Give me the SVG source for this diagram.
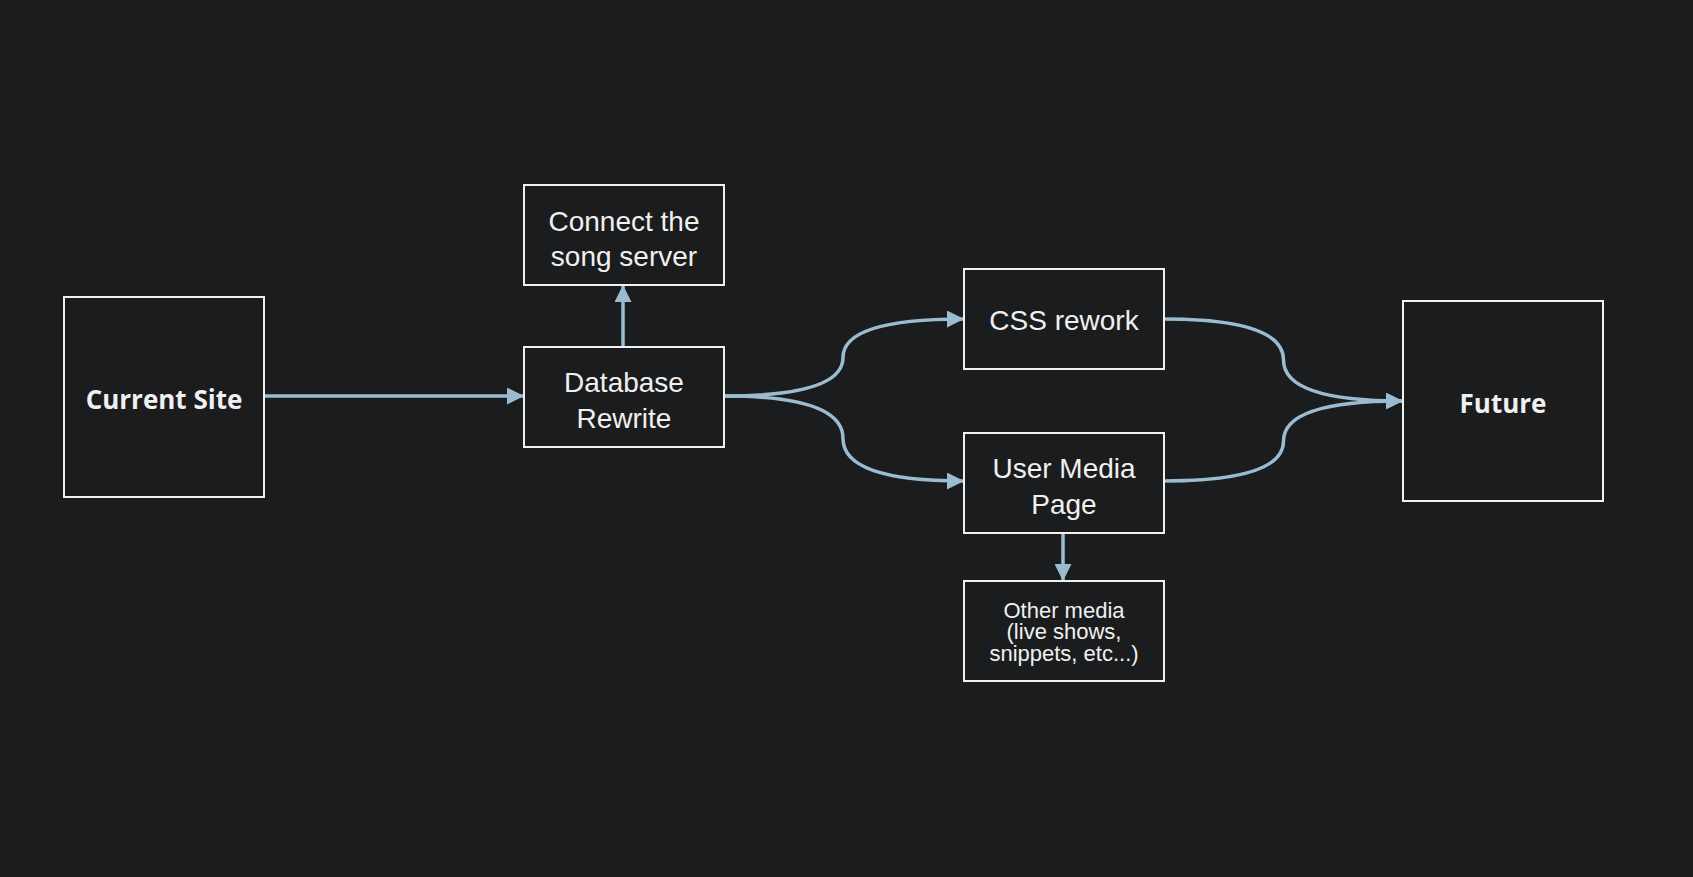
<svg xmlns="http://www.w3.org/2000/svg" width="1693" height="877" viewBox="0 0 1693 877">
<defs>
<style>
.box{fill:#1b1c1e;stroke:#f0f0f0;stroke-width:2}
.t{font-family:"Liberation Sans",Arial,sans-serif;font-size:28px;fill:#f0f0f0;text-anchor:middle}
.s{font-size:22px}
.b{font-family:"Open Sans","Noto Sans",sans-serif;font-weight:bold;font-size:26px;fill:#f0f0f0;text-anchor:middle}
.c{fill:none;stroke:#9bbcd0;stroke-width:3.5}
</style>
<marker id="ah" markerWidth="17" markerHeight="17" refX="16" refY="8.5" orient="auto" markerUnits="userSpaceOnUse" viewBox="0 0 17 17">
<path d="M0,0 L17,8.5 L0,17 Z" fill="#9bbcd0"/>
</marker>
</defs>
<rect width="1693" height="877" fill="#1b1c1e"/>
<g id="connectors">
<path class="c" d="M264,396 L523,396" marker-end="url(#ah)"/>
<path class="c" d="M623,347 L623,286" marker-end="url(#ah)"/>
<path class="c" d="M724,396 Q843,396 843,357.5 Q843,319 963,319" marker-end="url(#ah)"/>
<path class="c" d="M724,396 Q843,396 843,438.5 Q843,481 963,481" marker-end="url(#ah)"/>
<path class="c" d="M1164,319 Q1283.5,319 1283.5,360 Q1283.5,401 1402,401" marker-end="url(#ah)"/>
<path class="c" d="M1164,481 Q1283.5,481 1283.5,441 Q1283.5,401 1402,401"/>
<path class="c" d="M1063,533 L1063,580" marker-end="url(#ah)"/>
</g>
<g id="current-site">
<rect class="box" x="64" y="297" width="200" height="200"/>
<text class="b" x="164" y="409">Current Site</text>
</g>
<g id="database-rewrite">
<rect class="box" x="524" y="347" width="200" height="100"/>
<text class="t" x="624" y="392">Database</text>
<text class="t" x="624" y="427.5">Rewrite</text>
</g>
<g id="connect-song-server">
<rect class="box" x="524" y="185" width="200" height="100"/>
<text class="t" x="624" y="230.5">Connect the</text>
<text class="t" x="624" y="266">song server</text>
</g>
<g id="css-rework">
<rect class="box" x="964" y="269" width="200" height="100"/>
<text class="t" x="1064" y="330">CSS rework</text>
</g>
<g id="user-media-page">
<rect class="box" x="964" y="433" width="200" height="100"/>
<text class="t" x="1064" y="478">User Media</text>
<text class="t" x="1064" y="513.5">Page</text>
</g>
<g id="other-media">
<rect class="box" x="964" y="581" width="200" height="100"/>
<text class="t s" x="1064" y="617.5">Other media</text>
<text class="t s" x="1064" y="639">(live shows,</text>
<text class="t s" x="1064" y="661">snippets, etc...)</text>
</g>
<g id="future">
<rect class="box" x="1403" y="301" width="200" height="200"/>
<text class="b" x="1503" y="413">Future</text>
</g>
</svg>
